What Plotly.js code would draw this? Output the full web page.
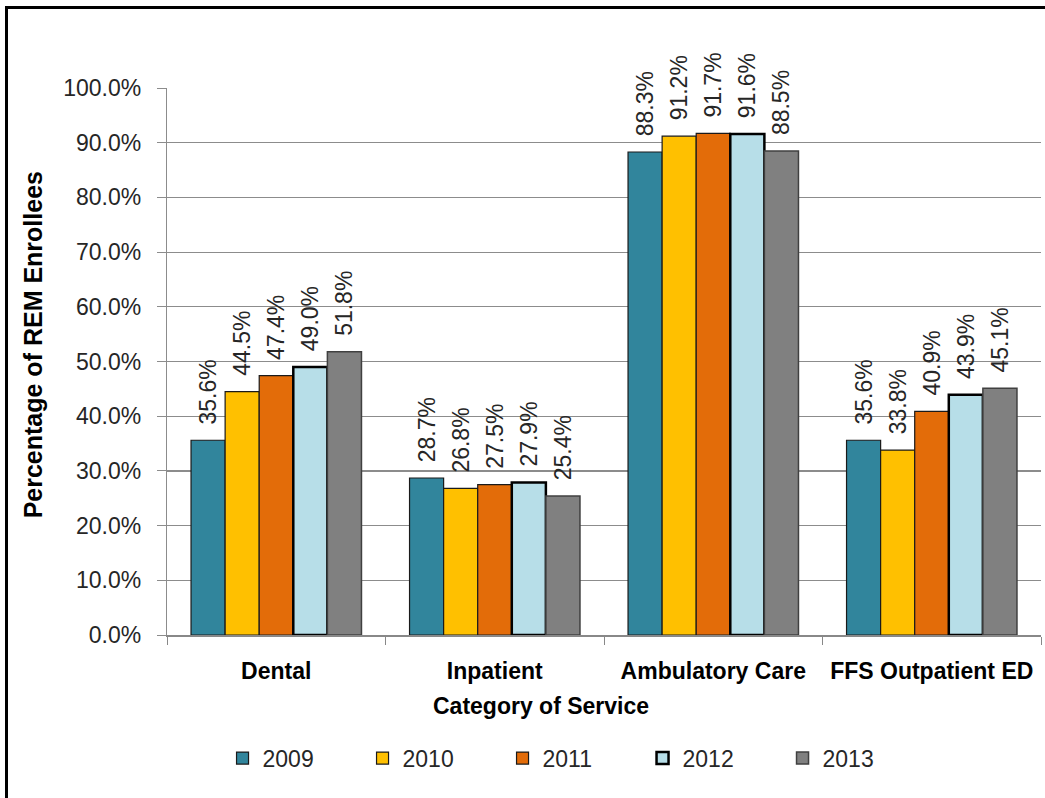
<!DOCTYPE html>
<html><head><meta charset="utf-8">
<script src="https://cdn.plot.ly/plotly-3.0.1.min.js"></script>
<style>
body{margin:0;padding:0;background:#fff;overflow:hidden;}
#wrap{position:relative;width:1045px;height:798px;overflow:hidden;}
#chart{position:absolute;left:0;top:0;width:1045px;height:798px;}
#frame{position:absolute;left:5px;top:6px;width:2000px;height:2000px;border:3px solid #000;pointer-events:none;}
</style></head>
<body><div id="wrap"><div id="chart"></div><div id="frame"></div></div>
<script>
const categories = ["Dental", "Inpatient", "Ambulatory Care", "FFS Outpatient ED"];
const years = ["2009", "2010", "2011", "2012", "2013"];
const v2009 = [0.356, 0.287, 0.883, 0.356];
const v2010 = [0.445, 0.268, 0.912, 0.338];
const v2011 = [0.474, 0.275, 0.917, 0.409];
const v2012 = [0.490, 0.279, 0.916, 0.439];
const v2013 = [0.518, 0.254, 0.885, 0.451];
const series = [v2009, v2010, v2011, v2012, v2013];
const fills = ["#31859C", "#FFC000", "#E36C09", "#B7DEE8", "#808080"];
const lines = ["#1a1a1a", "#1a1a1a", "#1a1a1a", "#000000", "#404040"];
const lw = [1.2, 1.2, 1.2, 2.5, 1.5];
const FONT = "Liberation Sans, Arial, sans-serif";

const traces = series.map((vals, i) => ({
  type: "bar", name: years[i], x: categories, y: vals,
  marker: {color: fills[i], line: {color: lines[i], width: lw[i]}},
  texttemplate: "\u00A0\u00A0%{y:.1%}", textposition: "outside", textangle: -90,
  constraintext: "none", cliponaxis: false,
  outsidetextfont: {family: FONT, size: 23, color: "#262626"},
  hoverinfo: "none"
}));

const layout = {
  width: 1045, height: 798,
  margin: {l: 167, r: 4, t: 88, b: 163},
  paper_bgcolor: "#fff", plot_bgcolor: "#fff",
  barmode: "group", bargap: 0.22, bargroupgap: 0,
  font: {family: FONT, color: "#262626"},
  showlegend: true,
  legend: {orientation: "h", x: 0.464, xanchor: "center", y: -0.225, yanchor: "middle",
    font: {family: FONT, size: 23, color: "#262626"}, entrywidth: 95, entrywidthmode: "pixels",
    itemwidth: 30, traceorder: "normal"},
  xaxis: {type: "category", tickson: "boundaries", ticks: "outside", ticklen: 8, tickcolor: "#888",
    showline: true, linecolor: "#888", linewidth: 1.5, showgrid: false, zeroline: false, ticklabelstandoff: 15,
    tickfont: {family: FONT, size: 23, color: "#000", weight: "bold"}, automargin: false},
  yaxis: {range: [0, 1.0], dtick: 0.1, tickformat: ".1%", showgrid: true, gridcolor: "#8c8c8c", gridwidth: 1.2,
    showline: true, linecolor: "#8c8c8c", linewidth: 1.2, zeroline: false, ticks: "outside", ticklen: 9, tickcolor: "#8c8c8c",
    ticklabelstandoff: 11,
    tickfont: {family: FONT, size: 23, color: "#262626"}, automargin: false},
  annotations: [
    {text: "<b>Percentage of REM Enrollees</b>", xref: "paper", yref: "paper", x: -0.153, y: 0.53,
     textangle: -90, showarrow: false, font: {family: FONT, size: 25, color: "#000"}, xanchor: "center", yanchor: "middle"},
    {text: "<b>Category of Service</b>", xref: "paper", yref: "paper", x: (541-167)/874, y: (635-706)/547,
     showarrow: false, font: {family: FONT, size: 23, color: "#000"}, xanchor: "center", yanchor: "middle"}
  ]
};
Plotly.newPlot("chart", traces, layout, {displayModeBar: false, staticPlot: true});
</script></body></html>
